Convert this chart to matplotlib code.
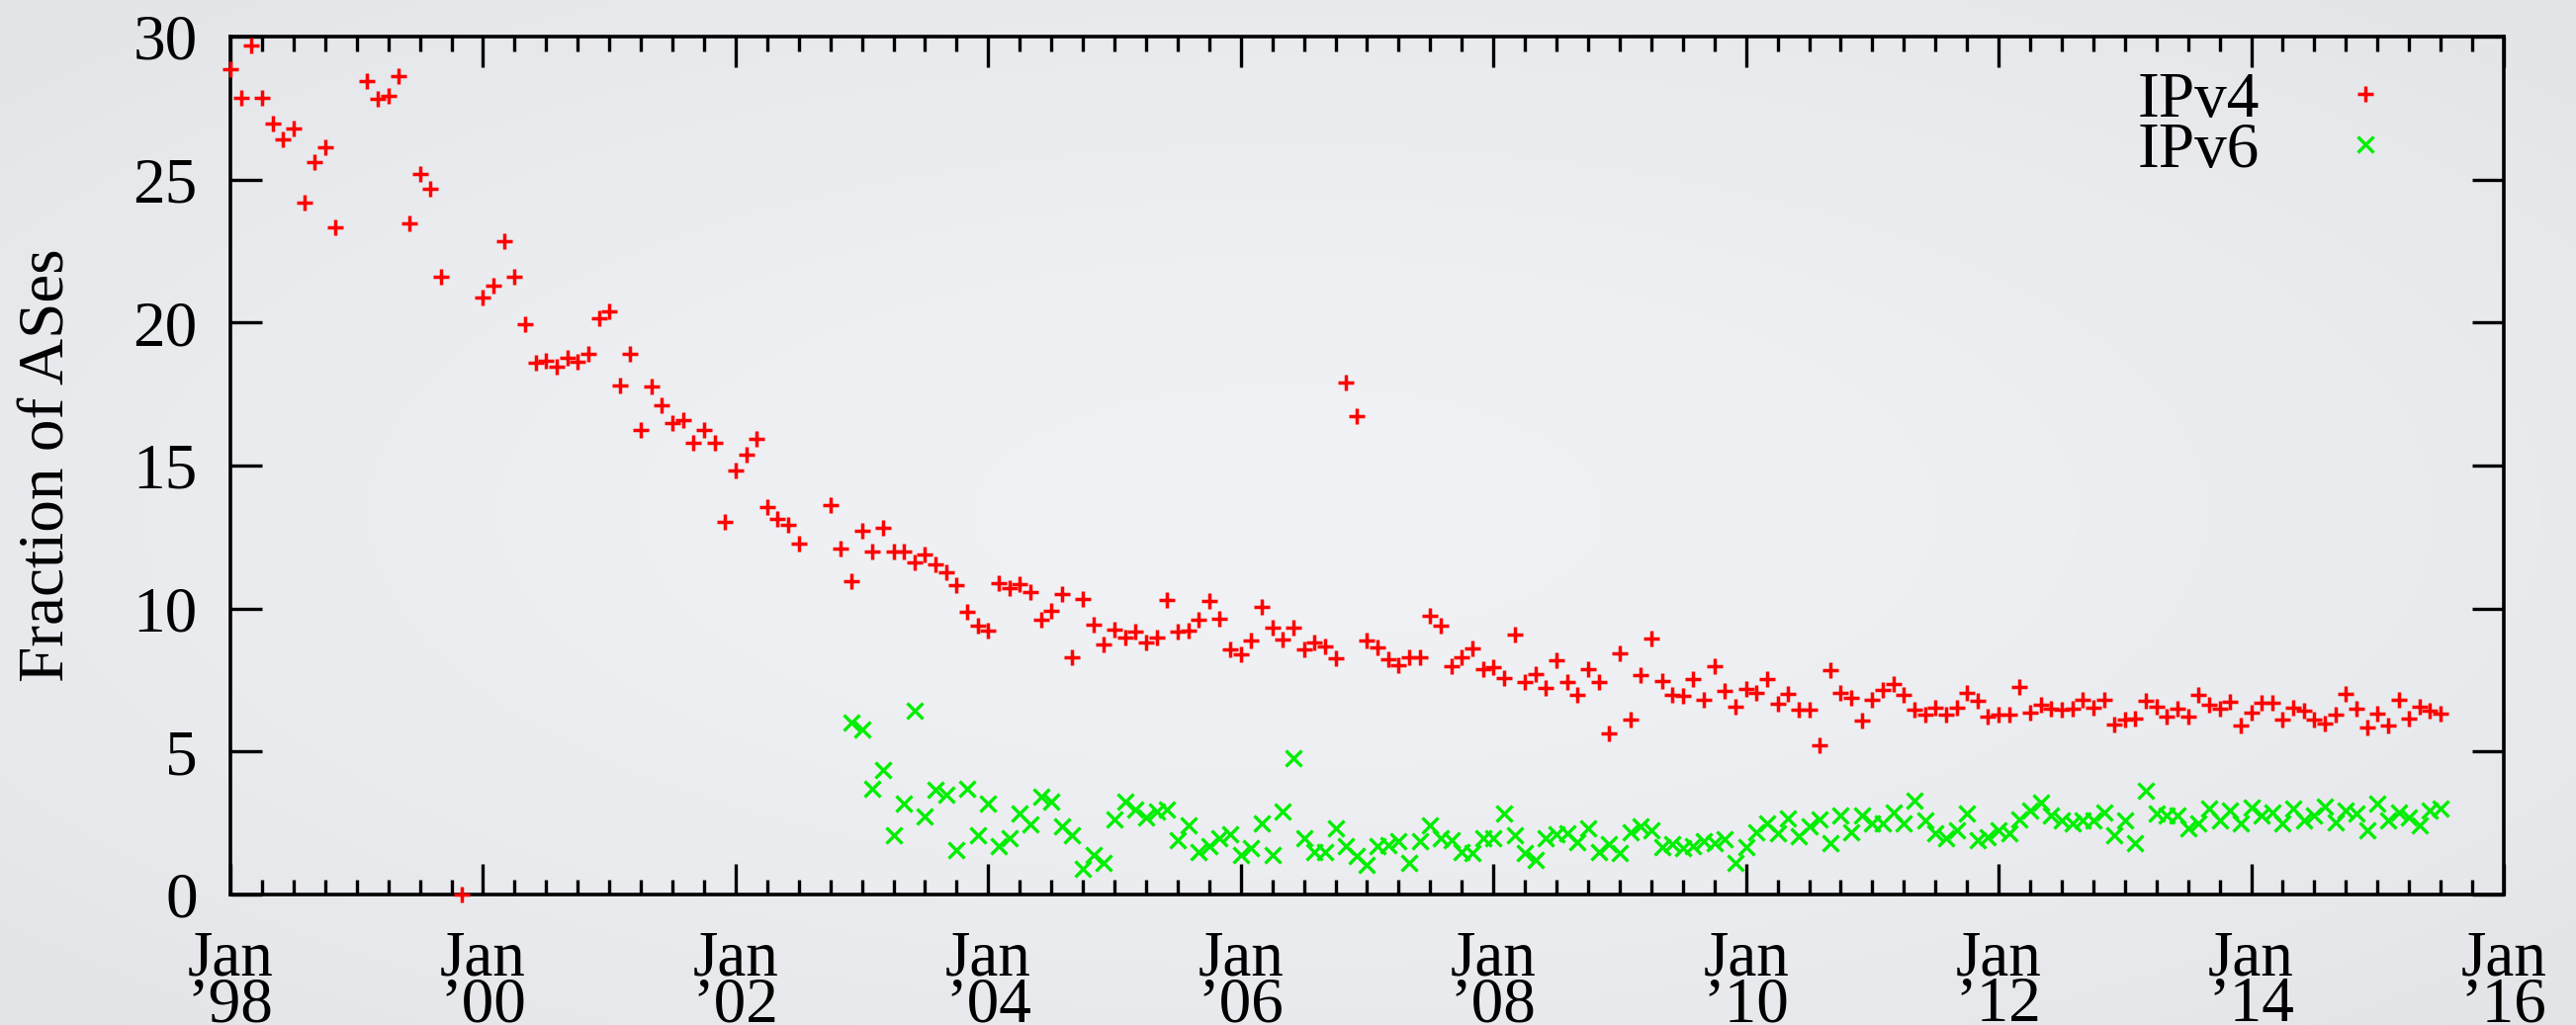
import numpy as np
import matplotlib
matplotlib.use("Agg")
import matplotlib.pyplot as plt
from matplotlib.ticker import FixedLocator, MultipleLocator

nan = np.nan
# monthly series, first value = start month
ipv4_start = (1998, 1)
ipv4_values = [
    28.87, 27.86, 29.70, 27.86, 26.95, 26.42, 26.80, 24.21, 25.62, 26.13, 23.34, nan,   # 1998
    nan, 28.44, 27.82, 27.91, 28.62, 23.46, 25.21, 24.68, 21.60, nan, 0.0, nan,         # 1999
    20.87, 21.29, 22.86, 21.60, 19.93, 18.60, 18.68, 18.44, 18.78, 18.62, 18.89, 20.16, # 2000
    20.38, 17.80, 18.89, 16.24, 17.78, 17.10, 16.47, 16.59, 15.78, 16.23, 15.78, 13.02, # 2001
    14.84, 15.39, 15.95, 13.56, 13.14, 12.93, 12.27, nan, nan, 13.62, 12.09, 10.97,     # 2002
    12.72, 11.98, 12.82, 11.98, 11.98, 11.62, 11.89, 11.55, 11.28, 10.83, 9.87, 9.39,   # 2003
    9.24, 10.89, 10.70, 10.85, 10.58, 9.60, 9.91, 10.50, 8.31, 10.35, 9.42, 8.75,       # 2004
    9.25, 8.99, 9.18, 8.82, 8.98, 10.29, 9.18, 9.23, 9.60, 10.25, 9.66, 8.57,           # 2005
    8.41, 8.88, 10.07, 9.34, 8.91, 9.34, 8.57, 8.83, 8.68, 8.27, 17.92, 16.73,          # 2006
    8.88, 8.65, 8.24, 8.02, 8.31, 8.31, 9.73, 9.39, 7.98, 8.30, 8.61, 7.89,             # 2007
    7.95, 7.57, 9.08, 7.43, 7.72, 7.22, 8.18, 7.43, 6.97, 7.89, 7.43, 5.62,             # 2008
    8.44, 6.11, 7.66, 8.96, 7.47, 6.97, 6.95, 7.55, 6.80, 7.97, 7.11, 6.56,             # 2009
    7.20, 7.05, 7.52, 6.68, 7.03, 6.45, 6.45, 5.22, 7.84, 7.06, 6.88, 6.07,             # 2010
    6.80, 7.14, 7.35, 6.97, 6.48, 6.30, 6.54, 6.30, 6.54, 7.06, 6.76, 6.22,             # 2011
    6.28, 6.28, 7.26, 6.37, 6.65, 6.51, 6.45, 6.51, 6.80, 6.54, 6.80, 5.93,             # 2012
    6.11, 6.16, 6.76, 6.57, 6.22, 6.51, 6.22, 6.97, 6.63, 6.51, 6.74, 5.91,             # 2013
    6.36, 6.71, 6.71, 6.11, 6.54, 6.42, 6.11, 5.99, 6.30, 7.01, 6.49, 5.85,             # 2014
    6.34, 5.91, 6.80, 6.14, 6.57, 6.42, 6.34,                                           # 2015
]

ipv6_start = (2002, 12)
ipv6_values = [
    6.03,                                                                               # 2002
    5.76, 3.69, 4.36, 2.07, 3.19, 6.42, 2.74, 3.65, 3.48, 1.56, 3.69, 2.07,             # 2003
    3.19, 1.69, 1.96, 2.82, 2.45, 3.43, 3.26, 2.37, 2.08, 0.89, 1.37, 1.09,             # 2004
    2.64, 3.24, 2.97, 2.69, 2.90, 2.97, 1.91, 2.43, 1.50, 1.71, 1.98, 2.12,             # 2005
    1.37, 1.61, 2.49, 1.37, 2.91, 4.76, 1.98, 1.50, 1.48, 2.32, 1.68, 1.34,             # 2006
    1.03, 1.71, 1.74, 1.88, 1.12, 1.85, 2.43, 1.98, 1.90, 1.50, 1.46, 1.96,             # 2007
    1.96, 2.85, 2.07, 1.44, 1.21, 1.96, 2.11, 2.15, 1.84, 2.31, 1.50, 1.76,             # 2008
    1.44, 2.19, 2.39, 2.25, 1.67, 1.76, 1.61, 1.69, 1.87, 1.78, 1.93, 1.11,             # 2009
    1.67, 2.19, 2.48, 2.15, 2.65, 2.04, 2.39, 2.61, 1.78, 2.77, 2.19, 2.77,             # 2010
    2.48, 2.48, 2.88, 2.50, 3.28, 2.59, 2.13, 1.96, 2.25, 2.85, 1.90, 2.02,             # 2011
    2.25, 2.13, 2.62, 2.94, 3.23, 2.77, 2.59, 2.48, 2.59, 2.59, 2.88, 2.07,             # 2012
    2.59, 1.79, 3.63, 2.85, 2.77, 2.77, 2.31, 2.48, 3.00, 2.59, 2.94, 2.48,             # 2013
    3.05, 2.77, 2.88, 2.48, 3.00, 2.59, 2.77, 3.08, 2.53, 2.94, 2.82, 2.25,             # 2014
    3.17, 2.59, 2.88, 2.71, 2.42, 2.94, 3.00,                                           # 2015
]

series_labels = ["IPv4", "IPv6"]
major_years = list(range(1998, 2017, 2))
major_labels = ["Jan\n\u2019%02d" % (y % 100) for y in major_years]
y_ticks = [0, 5, 10, 15, 20, 25, 30]
y_label = "Fraction of ASes"


def month_axis(start, n):
    y0, m0 = start
    return y0 + (m0 - 1 + np.arange(n)) / 12.0


FONT = "Liberation Serif"
plt.rcParams["font.family"] = [FONT, "DejaVu Serif"]
FS = 47

fig = plt.figure(figsize=(26.05, 10.37), dpi=100)

# slide-like radial background
bg = fig.add_axes([0, 0, 1, 1], zorder=-10)
gy, gx = np.mgrid[-1:1:300j, -1:1:700j]
r = np.sqrt(gx ** 2 + gy ** 2) / np.sqrt(2)
c_in = np.array([0xf1, 0xf2, 0xf5]) / 255.0
c_out = np.array([0xe2, 0xe4, 0xe8]) / 255.0
img = c_in[None, None, :] * (1 - r[..., None] ** 1.5) + c_out[None, None, :] * (r[..., None] ** 1.5)
bg.imshow(img, aspect="auto", extent=[0, 1, 0, 1], interpolation="bilinear")
bg.axis("off")

ax = fig.add_axes([233 / 2605, 132 / 1037, 2299 / 2605, 868 / 1037])
ax.set_facecolor("none")

x4 = month_axis(ipv4_start, len(ipv4_values))
x6 = month_axis(ipv6_start, len(ipv6_values))

ax.plot(x4, ipv4_values, linestyle="none", marker="+", markersize=12, markeredgewidth=2.5,
        color="#ff0000", label=series_labels[0], clip_on=False, zorder=3)
ax.plot(x6, ipv6_values, linestyle="none", marker="x", markersize=11, markeredgewidth=2.4,
        color="#00ee00", label=series_labels[1], clip_on=False, zorder=3)

ax.set_xlim(1998, 2016)
ax.set_ylim(0, 30)
ax.xaxis.set_major_locator(FixedLocator(major_years))
ax.set_xticklabels(major_labels)
ax.xaxis.set_minor_locator(MultipleLocator(0.25))
ax.set_yticks(y_ticks)

for sp in ax.spines.values():
    sp.set_linewidth(2.6)
    sp.set_color("black")

ax.tick_params(axis="both", which="both", direction="in", top=True, right=True,
               width=2.4, color="black", labelsize=FS)
ax.tick_params(axis="x", which="major", length=22, pad=26)
ax.tick_params(axis="x", which="minor", length=11)
ax.tick_params(axis="y", which="major", length=23, pad=24)
for t in ax.get_xticklabels():
    t.set_linespacing(0.72)
    t.set_fontfamily(FONT)
for t in ax.get_yticklabels():
    t.set_fontfamily(FONT)

ax.set_ylabel(y_label, fontsize=FS, labelpad=40)

leg = ax.legend(loc="upper right", bbox_to_anchor=((2425 - 233) / 2299, (905 - 72) / 868),
                frameon=False, markerfirst=False, fontsize=FS, handlelength=1.0,
                handletextpad=1.15, labelspacing=-0.13, borderpad=0, borderaxespad=0)

fig.savefig("out.png", dpi=100, facecolor=fig.get_facecolor())
